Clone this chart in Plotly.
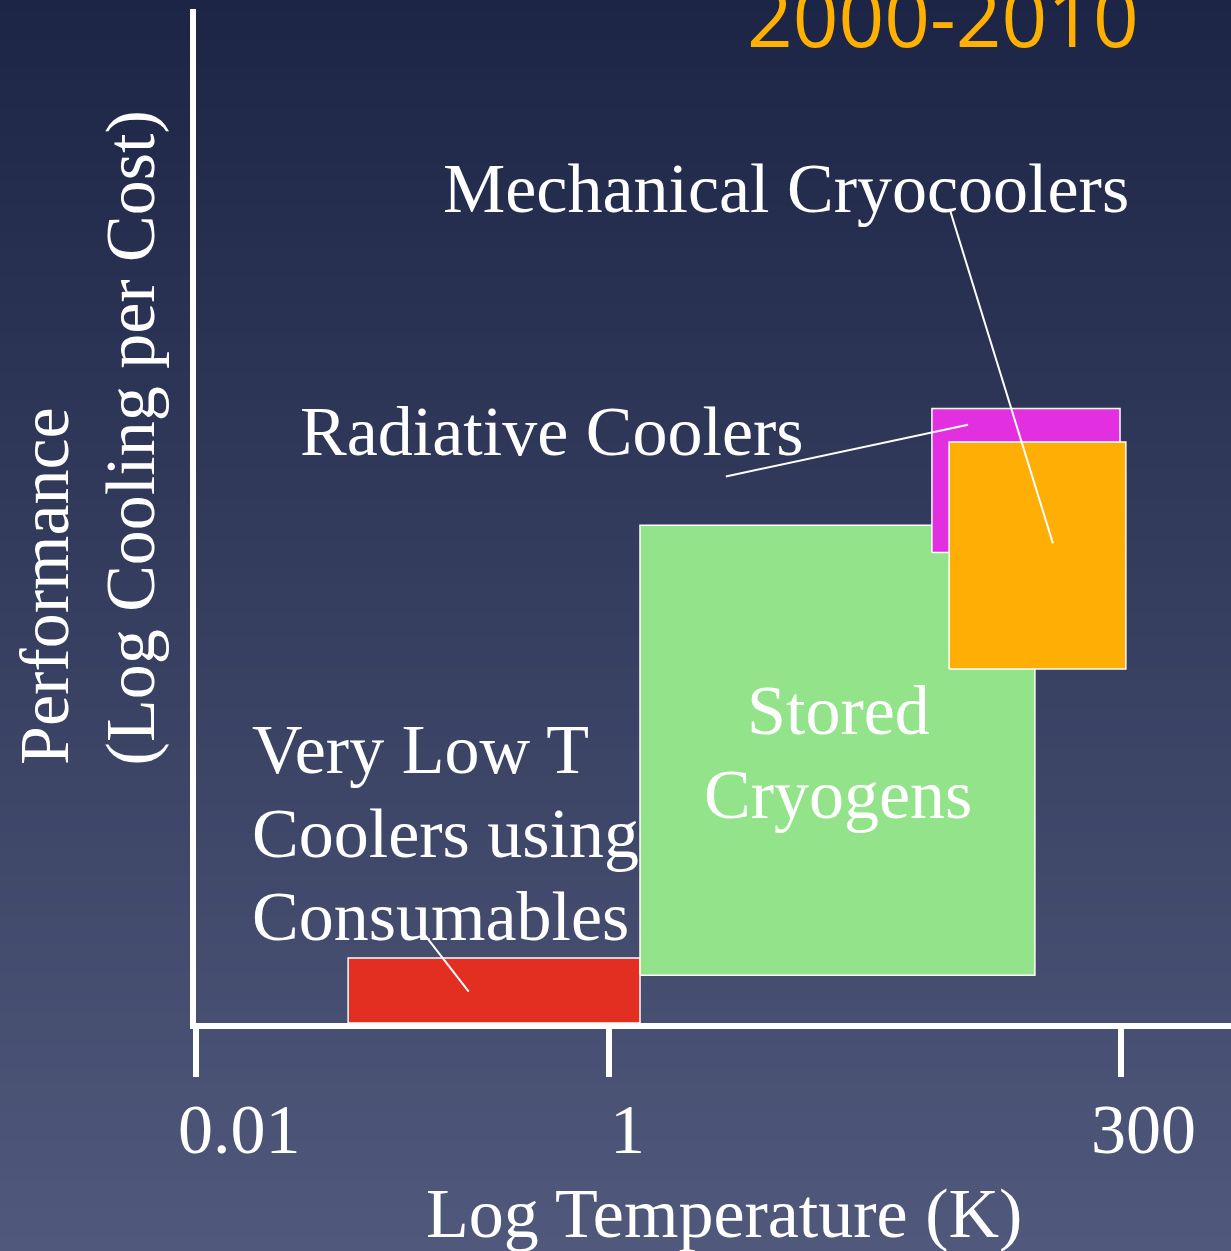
import math
import plotly.graph_objects as go

# Cooler families: temperature span (K) and relative performance (arbitrary units)
cooler_types = ["Very Low T Coolers using Consumables", "Stored Cryogens",
                "Radiative Coolers", "Mechanical Cryocoolers"]
temp_low_K = [0.0545, 1.41, 36.5, 44.2]
temp_high_K = [1.41, 115, 297, 317]
perf_low = [0, 4.7, 46.4, 34.9]
perf_high = [6.4, 49.1, 60.6, 57.3]
box_colors = ["#E32E22", "#93E38A", "#E230E0", "#FFAE05"]

# Axis ticks
tick_vals = [0.01, 1, 300]
tick_labels = ["0.01", "1", "300"]

# Leader lines: (start K, start perf) -> (end K, end perf)
leader_x0 = [0.128, 3.67, 44.6]
leader_y0 = [8.7, 53.9, 80.2]
leader_x1 = [0.209, 54.6, 140.6]
leader_y1 = [3.1, 59.0, 47.3]

SERIF = "Liberation Serif"
FS = 70

fig = go.Figure()

# rectangles
for name, x0, x1, y0, y1, c in zip(cooler_types, temp_low_K, temp_high_K,
                                     perf_low, perf_high, box_colors):
    fig.add_trace(go.Scatter(
        x=[x0, x1, x1, x0, x0], y=[y0, y0, y1, y1, y0],
        mode="lines", fill="toself", fillcolor=c,
        line=dict(color="white", width=1.5),
        name=name, hoverinfo="name", showlegend=False,
    ))

# background gradient as stacked paper strips
top_rgb = (28, 37, 69)
bot_rgb = (80, 89, 123)
n_strips = 90
y_top, y_bot = 1.012, -0.226
shapes = []
for i in range(n_strips):
    t = i / (n_strips - 1)
    r, g, b = [int(round(a + (bb - a) * t)) for a, bb in zip(top_rgb, bot_rgb)]
    ya = y_top + (y_bot - y_top) * i / n_strips
    yb = y_top + (y_bot - y_top) * (i + 1) / n_strips
    shapes.append(dict(type="rect", xref="paper", yref="paper",
                       x0=-0.2, x1=1.01, y0=yb - 0.001, y1=ya + 0.001,
                       fillcolor=f"rgb({r},{g},{b})", line=dict(width=0),
                       layer="below"))

# leader lines
for xa, ya_, xb, yb_ in zip(leader_x0, leader_y0, leader_x1, leader_y1):
    shapes.append(dict(type="line", xref="x", yref="y",
                       x0=xa, y0=ya_, x1=xb, y1=yb_,
                       line=dict(color="white", width=2), layer="above"))

white = dict(family=SERIF, size=FS, color="white")
annotations = [
    dict(text="Mechanical Cryocoolers", x=0.5705, y=0.8225,
         xanchor="center", yanchor="middle"),
    dict(text="Radiative Coolers", x=0.3444, y=0.5838,
         xanchor="center", yanchor="middle"),
    dict(text="Very Low T", x=0.0522, y=0.2702, xanchor="left", yanchor="middle"),
    dict(text="Coolers using", x=0.0522, y=0.1864, xanchor="left", yanchor="middle"),
    dict(text="Consumables", x=0.0522, y=0.1055, xanchor="left", yanchor="middle"),
    dict(text="Stored", x=0.6203, y=0.3077, xanchor="center", yanchor="middle"),
    dict(text="Cryogens", x=0.6203, y=0.2258, xanchor="center", yanchor="middle"),
    dict(text="Performance", x=-0.1459, y=0.2525,
         xanchor="center", yanchor="bottom", textangle=-90),
    dict(text="(Log Cooling per Cost)", x=-0.0638, y=0.2525,
         xanchor="center", yanchor="bottom", textangle=-90),
    dict(text="Log Temperature (K)", x=0.5097, y=-0.1874,
         xanchor="center", yanchor="middle"),
]
for a in annotations:
    a.update(xref="paper", yref="paper", showarrow=False, font=white)

# tick labels (placed like the original slide, slightly off the tick marks)
label_shift = [43, 18, 23]
for v, lab, sh in zip(tick_vals, tick_labels, label_shift):
    annotations.append(dict(text=lab, x=math.log10(v), xref="x",
                            y=-0.1055, yref="paper",
                            xanchor="center", yanchor="middle", xshift=sh,
                            showarrow=False, font=white))

annotations.append(dict(text="2000-2010", x=0.7222, y=0.9931,
                        xref="paper", yref="paper", xanchor="center",
                        yanchor="middle", showarrow=False,
                        font=dict(family="Open Sans", size=80, color="#FFB000")))

fig.update_xaxes(
    type="log", range=[-2, 3.01],
    showline=True, linecolor="white", linewidth=6,
    ticks="outside", tickvals=tick_vals, ticklen=48, tickwidth=6,
    tickcolor="white", showticklabels=False,
    showgrid=False, zeroline=False,
)
fig.update_yaxes(
    range=[0, 100], showline=True, linecolor="white", linewidth=6,
    showticklabels=False, ticks="", showgrid=False, zeroline=False,
)

fig.update_layout(
    width=1231, height=1251,
    margin=dict(l=196, r=0, t=9, b=228),
    paper_bgcolor="#2f3756", plot_bgcolor="rgba(0,0,0,0)",
    shapes=shapes, annotations=annotations,
    showlegend=False,
)

fig.write_html("out.html",
               config={"displayModeBar": False},
               post_script="document.body.style.margin='0';"
                           "document.body.style.overflow='hidden';")
